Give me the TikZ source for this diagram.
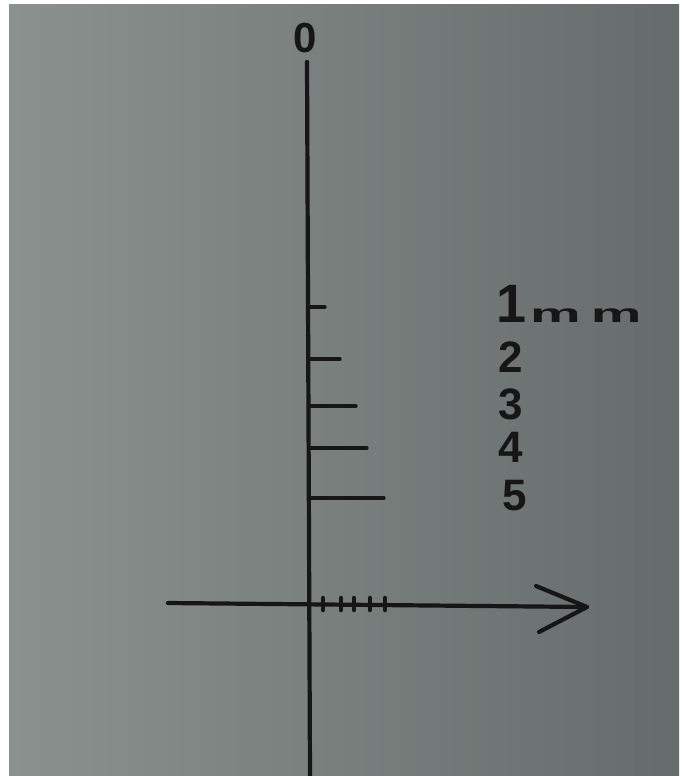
\documentclass[tikz,border=0pt]{standalone}
\usepackage{fontspec}
\usepackage{graphicx}
\setmainfont{Liberation Sans}
\definecolor{paperL}{HTML}{8A918F}
\definecolor{paperR}{HTML}{656C6B}
\definecolor{ink}{HTML}{161616}
\tikzset{
  axisline/.style={draw=ink, line width=4.2pt, line cap=round},
  tickline/.style={draw=ink, line width=3.2pt, line cap=round},
  blob/.style={draw=ink, line width=4.5pt, line cap=round},
  digit/.style={text=ink, inner sep=0pt, font=\fontsize{44}{44}\selectfont\bfseries},
}
\begin{document}
\begin{tikzpicture}[x=1pt, y=-1pt]
\useasboundingbox (0,0) rectangle (685,776);
\fill[white] (0,0) rectangle (685,776);
\shade[left color=paperL, right color=paperR] (9,5) rectangle (679,776);

% zero label and vertical axis
\node[digit, font=\fontsize{42}{42}\selectfont\bfseries] (zero) at (305,38) {0};
\coordinate (vtop) at (307,62);
\coordinate (vbot) at (310,776);
\draw[axisline] (vtop) -- (vbot);

% ticks on vertical axis
\coordinate (t1a) at (308,307); \coordinate (t1b) at (325,307);
\coordinate (t2a) at (308,359); \coordinate (t2b) at (340,359);
\coordinate (t3a) at (309,406); \coordinate (t3b) at (356,406);
\coordinate (t4a) at (309,448); \coordinate (t4b) at (367,448);
\coordinate (t5a) at (309,498); \coordinate (t5b) at (384,498);
\draw[tickline] (t1a) -- (t1b);
\draw[tickline] (t2a) -- (t2b);
\draw[tickline] (t3a) -- (t3b);
\draw[tickline] (t4a) -- (t4b);
\draw[tickline] (t5a) -- (t5b);

% labels
\node[digit, anchor=base west] (l1) at (496,322) {\fontsize{54}{54}\selectfont\bfseries 1\hspace{4pt}\fontsize{30}{30}\selectfont\bfseries\scalebox{1.9}[0.85]{m}\hspace{10pt}\scalebox{1.9}[0.85]{m}};
\node[digit] (l2) at (511,357) {2};
\node[digit] (l3) at (511,404) {3};
\node[digit] (l4) at (511,447) {4};
\node[digit] (l5) at (515,496) {5};

% horizontal axis with open arrow
\coordinate (hl) at (168,603);
\coordinate (hr) at (587,607);
\coordinate (ha1) at (536,586);
\coordinate (ha2) at (539,632);
\draw[axisline] (hl) -- (hr);
\draw[axisline, line join=round] (ha1) -- (hr) -- (ha2);

% small marks on horizontal axis
\foreach \x in {323,341,354,370,385} {
  \coordinate (m\x a) at (\x,598);
  \coordinate (m\x b) at (\x,610);
  \draw[blob] (m\x a) -- (m\x b);
}
\end{tikzpicture}
\end{document}
